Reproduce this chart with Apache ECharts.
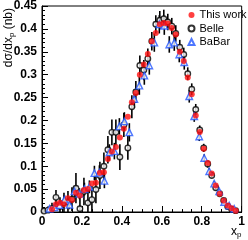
<!DOCTYPE html>
<html><head><meta charset="utf-8">
<script src="https://cdn.jsdelivr.net/npm/echarts@6/dist/echarts.min.js"></script>
<style>html,body{margin:0;padding:0;background:#fff}#c{width:248px;height:240px}</style>
</head><body><div id="c"></div>
<script>
// This work (red dots)
const workX = [0.05,0.07,0.09,0.11,0.13,0.15,0.17,0.19,0.21,0.23,0.25,0.27,0.29,0.31,0.33,0.35,0.37,0.39,0.41,0.43,0.45,0.47,0.49,0.51,0.53,0.55,0.57,0.59,0.61,0.63,0.65,0.67,0.69,0.71,0.73,0.75,0.77,0.79,0.81,0.83,0.85,0.87,0.89,0.91,0.93,0.95,0.97];
const workY = [0.006,0.017,0.020,0.017,0.030,0.026,0.042,0.036,0.048,0.050,0.062,0.064,0.086,0.087,0.116,0.132,0.142,0.163,0.182,0.208,0.240,0.260,0.300,0.322,0.345,0.373,0.391,0.410,0.413,0.412,0.402,0.388,0.350,0.330,0.294,0.257,0.211,0.175,0.138,0.107,0.084,0.058,0.040,0.025,0.014,0.008,0.003];
// Belle (open black circles)
const belleX = [0.01,0.03,0.05,0.07,0.09,0.11,0.13,0.15,0.17,0.19,0.21,0.23,0.25,0.27,0.29,0.31,0.33,0.35,0.37,0.39,0.41,0.43,0.45,0.47,0.49,0.51,0.53,0.55,0.57,0.59,0.61,0.63,0.65,0.67,0.69,0.71,0.73,0.75,0.77,0.79,0.81,0.83,0.85,0.87,0.89,0.91,0.93,0.95,0.97];
const belleY = [0.002,0.004,0.008,0.032,0.012,0.020,0.022,0.028,0.052,0.007,0.045,0.020,0.027,0.049,0.080,0.100,0.136,0.174,0.174,0.120,0.190,0.140,0.230,0.262,0.320,0.310,0.335,0.373,0.410,0.419,0.422,0.415,0.406,0.390,0.360,0.344,0.302,0.268,0.224,0.179,0.140,0.105,0.080,0.053,0.040,0.025,0.012,0.006,0.003];
const belleErr = [0.006,0.008,0.012,0.016,0.020,0.022,0.024,0.026,0.033,0.030,0.030,0.030,0.030,0.030,0.030,0.030,0.030,0.028,0.028,0.028,0.026,0.026,0.025,0.024,0.022,0.022,0.022,0.020,0.020,0.020,0.020,0.018,0.018,0.018,0.016,0.015,0.014,0.013,0.012,0.010,0.009,0.008,0.007,0.006,0.005,0.004,0.004,0.003,0.003];
// BaBar (open blue triangles)
const babarX = [0.0375,0.0625,0.0875,0.1125,0.1375,0.1625,0.1875,0.2125,0.2375,0.2625,0.2875,0.3125,0.3375,0.3625,0.3875,0.4125,0.4375,0.4625,0.4875,0.5125,0.5375,0.5625,0.5875,0.6125,0.6375,0.6625,0.6875,0.7125,0.7375,0.7625,0.7875,0.8125,0.8375,0.8625,0.8875,0.9125,0.9375,0.9625];
const babarY = [0.007,0.010,0.015,0.027,0.016,0.045,0.040,0.050,0.055,0.085,0.086,0.068,0.130,0.133,0.187,0.198,0.174,0.247,0.276,0.298,0.320,0.370,0.410,0.407,0.366,0.370,0.344,0.327,0.253,0.209,0.165,0.118,0.089,0.062,0.045,0.022,0.014,0.007];
const babarErr = [0.005,0.006,0.008,0.010,0.010,0.012,0.012,0.014,0.014,0.016,0.016,0.016,0.018,0.018,0.018,0.020,0.020,0.020,0.020,0.020,0.020,0.020,0.020,0.020,0.018,0.018,0.017,0.016,0.014,0.012,0.010,0.008,0.007,0.006,0.005,0.004,0.003,0.003];
const xTicks = [0, 0.2, 0.4, 0.6, 0.8, 1];
const yTicks = [0,0.05,0.1,0.15,0.2,0.25,0.3,0.35,0.4,0.45];

const pts = (xs, ys) => xs.map((x, i) => [x, ys[i]]);
const errs = (xs, ys, es) => xs.map((x, i) => [x, ys[i] - es[i], ys[i] + es[i]]);

function errRender(params, api) {
  const x = api.value(0);
  const p1 = api.coord([x, Math.max(0, api.value(1))]);
  const p2 = api.coord([x, api.value(2)]);
  return {type: 'line', shape: {x1: p1[0], y1: p1[1], x2: p2[0], y2: p2[1]},
    style: {stroke: '#000', lineWidth: 1.6}};
}

const FF = 'Liberation Sans, Arial, sans-serif';
const chart = echarts.init(document.getElementById('c'), null, {renderer: 'canvas'});
const lblFont = {fontFamily: FF, fontWeight: 'bold', fontSize: 12, color: '#000'};
chart.setOption({
  animation: false,
  grid: {left: 42, right: 5, top: 6, bottom: 28, show: true, borderColor: '#000', borderWidth: 1},
  xAxis: {type: 'value', min: 0, max: 1, interval: 0.2,
    axisLine: {lineStyle: {color: '#000', width: 1}},
    axisTick: {inside: true, length: 6, lineStyle: {color: '#000'}},
    minorTick: {show: true, splitNumber: 4, length: 3, lineStyle: {color: '#000'}},
    splitLine: {show: false},
    axisLabel: Object.assign({margin: 4, formatter: v => xTicks.includes(+v.toFixed(2)) ? String(+v.toFixed(2)) : ''}, lblFont)},
  yAxis: {type: 'value', min: 0, max: 0.45, interval: 0.05,
    axisLine: {show: true, lineStyle: {color: '#000', width: 1}},
    axisTick: {show: true, inside: true, length: 6, lineStyle: {color: '#000'}},
    minorTick: {show: true, splitNumber: 5, length: 3, lineStyle: {color: '#000'}},
    splitLine: {show: false},
    axisLabel: Object.assign({margin: 5, formatter: v => String(+v.toFixed(2))}, lblFont)},
  legend: {orient: 'vertical', left: 187.5, top: 8.5, itemWidth: 6, itemHeight: 6, itemGap: 0.5, padding: 0,
    textStyle: {fontFamily: FF, fontSize: 11, lineHeight: 13, color: '#000'},
    data: ['This work', 'Belle', 'BaBar']},
  series: [
    {type: 'custom', name: 'belleErr', renderItem: errRender, data: errs(belleX, belleY, belleErr), encode: {x: 0, y: [1, 2]}, z: 1, silent: true},
    {type: 'custom', name: 'babarErr', renderItem: errRender, data: errs(babarX, babarY, babarErr), encode: {x: 0, y: [1, 2]}, z: 1, silent: true},
    {type: 'scatter', name: 'Belle', data: pts(belleX, belleY), symbol: 'circle', symbolSize: 5.5,
      itemStyle: {color: '#fff', borderColor: '#000', borderWidth: 1.4}, z: 3},
    {type: 'scatter', name: 'BaBar', data: pts(babarX, babarY), symbol: 'triangle', symbolSize: 6.5,
      itemStyle: {color: '#fff', borderColor: '#2255ff', borderWidth: 1.4}, z: 4},
    {type: 'scatter', name: 'This work', data: pts(workX, workY), symbol: 'circle', symbolSize: 6,
      itemStyle: {color: '#ff1010'}, z: 5}
  ],
  graphic: [
    {type: 'text', x: 9, y: 8, rotation: Math.PI / 2,
      style: {text: '{a|dσ/dx}{s|p}{a| (nb)}', align: 'right', verticalAlign: 'middle',
        rich: {a: {fontFamily: FF, fontSize: 12, fill: '#000'},
               s: {fontFamily: FF, fontSize: 8, fill: '#000', padding: [6, 0, 0, 0]}}}},
    {type: 'text', x: 231, y: 225,
      style: {text: '{a|x}{s|p}', align: 'left', verticalAlign: 'top',
        rich: {a: {fontFamily: FF, fontSize: 12, fill: '#000'},
               s: {fontFamily: FF, fontSize: 8, fill: '#000', padding: [6, 0, 0, 0]}}}}
  ]
});
</script></body></html>
